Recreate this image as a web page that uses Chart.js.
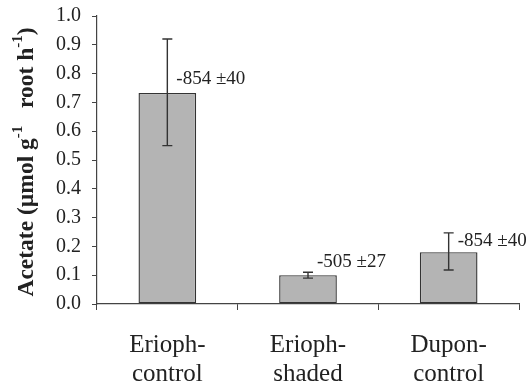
<!DOCTYPE html>
<html>
<head>
<meta charset="utf-8">
<script src="https://cdn.jsdelivr.net/npm/chart.js@4/dist/chart.umd.min.js"></script>
<style>
  html, body { margin: 0; padding: 0; background: #fff; }
  #wrap { width: 528px; height: 383px; position: relative; }
</style>
</head>
<body>
<div id="wrap"><canvas id="chart"></canvas></div>
<script>
const categories = [["Erioph-", "control"], ["Erioph-", "shaded"], ["Dupon-", "control"]];
const acetate = [0.733, 0.10, 0.18];
const errLow = [0.55, 0.09, 0.118];
const errHigh = [0.92, 0.11, 0.247];
const notes = ["-854 \u00b140", "-505 \u00b127", "-854 \u00b140"];
const noteAt = [0.78, 0.145, 0.22];
const yTicks = [0, 0.1, 0.2, 0.3, 0.4, 0.5, 0.6, 0.7, 0.8, 0.9, 1.0];

const serif = "'Liberation Serif', 'DejaVu Serif', serif";
const ink = "#222";

// error bars + value notes next to each bar
const extras = {
  id: "extras",
  afterDatasetsDraw(chart) {
    const { ctx, scales: { x, y } } = chart;
    ctx.save();
    ctx.strokeStyle = "#333";
    ctx.lineWidth = 1.4;
    acetate.forEach((v, i) => {
      const cx = x.getPixelForValue(i);
      const lo = y.getPixelForValue(errLow[i]);
      const hi = y.getPixelForValue(errHigh[i]);
      ctx.beginPath();
      ctx.moveTo(cx, lo); ctx.lineTo(cx, hi);
      ctx.moveTo(cx - 5, lo); ctx.lineTo(cx + 5, lo);
      ctx.moveTo(cx - 5, hi); ctx.lineTo(cx + 5, hi);
      ctx.stroke();
    });
    ctx.fillStyle = ink;
    ctx.font = "19px " + serif;
    ctx.textBaseline = "middle";
    ctx.textAlign = "left";
    notes.forEach((t, i) => {
      ctx.fillText(t, x.getPixelForValue(i) + 9, y.getPixelForValue(noteAt[i]));
    });
    ctx.restore();
  },
  afterDraw(chart) {
    // y axis title with superscripts
    const { ctx } = chart;
    const parts = [
      ["Acetate (\u00b5mol g", false],
      ["-1", true],
      ["   root h", false],
      ["-1", true],
      [")", false]
    ];
    const big = "bold 23.5px " + serif;
    const small = "bold 15px " + serif;
    ctx.save();
    let total = 0;
    parts.forEach(([s, sup]) => {
      ctx.font = sup ? small : big;
      total += ctx.measureText(s).width;
    });
    ctx.translate(27, 162);
    ctx.rotate(-Math.PI / 2);
    ctx.fillStyle = ink;
    ctx.textBaseline = "middle";
    let px = -total / 2;
    parts.forEach(([s, sup]) => {
      ctx.font = sup ? small : big;
      ctx.fillText(s, px, sup ? -9 : 0);
      px += ctx.measureText(s).width;
    });
    ctx.restore();
  }
};

new Chart(document.getElementById("chart"), {
  type: "bar",
  data: {
    labels: categories,
    datasets: [{
      data: acetate,
      backgroundColor: "#b4b4b4",
      borderColor: "#333",
      borderWidth: 1.4,
      borderSkipped: false,
      categoryPercentage: 1,
      barPercentage: 0.41
    }]
  },
  options: {
    responsive: true,
    maintainAspectRatio: false,
    animation: false,
    layout: { padding: { top: 16, right: 9, left: 0, bottom: 0 } },
    plugins: { legend: { display: false }, tooltip: { enabled: false } },
    scales: {
      x: {
        offset: true,
        grid: { offset: true, drawOnChartArea: false, tickLength: 6, color: "#444", lineWidth: 1 },
        border: { color: "#444", width: 1.2 },
        ticks: { color: ink, font: { family: serif, size: 25, lineHeight: 1.15 }, padding: 21, maxRotation: 0 },
        afterFit: (s) => { s.height = 79; }
      },
      y: {
        min: 0,
        max: 1,
        afterBuildTicks: (s) => { s.ticks = yTicks.map((v) => ({ value: v })); },
        grid: { drawOnChartArea: false, tickLength: 5, color: "#444", lineWidth: 1 },
        border: { color: "#444", width: 1.2 },
        ticks: { color: ink, font: { family: serif, size: 20, lineHeight: 0.4 }, padding: 11, callback: (v) => Number(v).toFixed(1) },
        afterFit: (s) => { s.width = 97; s.paddingTop = 0; s.paddingBottom = 0; }
      }
    }
  },
  plugins: [extras]
});
</script>
</body>
</html>
